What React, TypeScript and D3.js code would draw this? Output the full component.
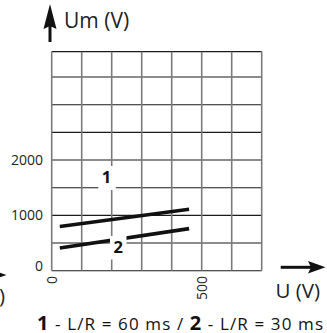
import React from "react";
import * as d3 from "d3";

const xGridValues = [0, 100, 200, 300, 400, 500, 600, 700];
const yGridValues = [0, 500, 1000, 1500, 2000, 2500, 3000, 3500];
const yMax = 3960;
const xTicks = [0, 500];
const yTicks = [0, 1000, 2000];
const series1 = [
  { u: 27, um: 800 },
  { u: 458, um: 1110 },
];
const series2 = [
  { u: 27, um: 410 },
  { u: 458, um: 760 },
];
const FONT = "'Open Sans', 'DejaVu Sans', sans-serif";

export default function App() {
  const x = d3.scaleLinear().domain([0, 700]).range([51.7, 261.7]);
  const y = d3.scaleLinear().domain([0, yMax]).range([270.7, 51.6]);
  const line = d3
    .line<{ u: number; um: number }>()
    .x((d) => x(d.u))
    .y((d) => y(d.um));

  return (
    <svg
      width={327}
      height={333}
      style={{ position: "absolute", left: 0, top: 0, background: "#fff" }}
      fontFamily={FONT}
    >
      {/* horizontal grid */}
      {yGridValues.map((v) => (
        <line key={"h" + v} x1={x(0)} x2={x(700)} y1={y(v)} y2={y(v)} stroke="#1a1a1a" strokeWidth={1.1} />
      ))}
      <line x1={x(0)} x2={x(700)} y1={y(yMax)} y2={y(yMax)} stroke="#1a1a1a" strokeWidth={1.1} />
      {/* vertical grid */}
      {xGridValues.map((v) => (
        <line key={"v" + v} x1={x(v)} x2={x(v)} y1={y(yMax)} y2={y(0)} stroke="#7a7a7a" strokeWidth={1.6} />
      ))}
      {/* series lines */}
      <path d={line(series1) || ""} stroke="#111" strokeWidth={3.6} fill="none" />
      <path d={line(series2) || ""} stroke="#111" strokeWidth={3.6} fill="none" />
      {/* label boxes */}
      <rect x={98.3} y={166} width={17.5} height={24} fill="#fff" />
      <text x={106.5} y={182.7} fontSize={16.5} fontWeight={700} textAnchor="middle" fill="#111">1</text>
      <rect x={110} y={236} width={16.5} height={23.5} fill="#fff" />
      <text x={118.3} y={253.3} fontSize={16.5} fontWeight={700} textAnchor="middle" fill="#111">2</text>

      {/* y tick labels */}
      {yTicks.map((v) => (
        <text key={"yt" + v} x={43} y={Math.min(y(v) + 4.5, 271)} fontSize={14} textAnchor="end" fill="#222">
          {v}
        </text>
      ))}
      {/* x tick labels (rotated) */}
      {xTicks.map((v) => (
        <text
          key={"xt" + v}
          transform={`translate(${x(v) + 5.5},276) rotate(-90)`}
          fontSize={14}
          textAnchor="end"
          fill="#222"
        >
          {v}
        </text>
      ))}

      {/* y axis arrow */}
      <line x1={50} x2={50} y1={42} y2={20} stroke="#111" strokeWidth={3} />
      <path d="M50,4 L56.5,29 L50,26 L43.5,29 Z" fill="#111" />
      <text x={64} y={27.5} fontSize={21} fill="#222">Um (V)</text>

      {/* x axis arrow */}
      <line x1={280.7} x2={312} y1={267.3} y2={267.3} stroke="#111" strokeWidth={3} />
      <path d="M325.5,267.3 L308,261 L311,267.3 L308,273.6 Z" fill="#111" />
      <text x={275.5} y={297.5} fontSize={20.5} fill="#222">U (V)</text>

      {/* clipped neighbour elements at left edge */}
      <path d="M6.5,275 L-10,269 L-7,275 L-10,281 Z" fill="#111" />
      <text x={5} y={303} fontSize={20.5} textAnchor="end" fill="#222">U (V)</text>

      {/* legend */}
      <text x={37} y={329.5} fill="#111" fontSize={17} textLength={286} lengthAdjust="spacing">
        <tspan fontWeight={700} fontSize={20}>1</tspan>
        <tspan> - L/R = 60 ms / </tspan>
        <tspan fontWeight={700} fontSize={20}>2</tspan>
        <tspan> - L/R = 30 ms</tspan>
      </text>
    </svg>
  );
}
